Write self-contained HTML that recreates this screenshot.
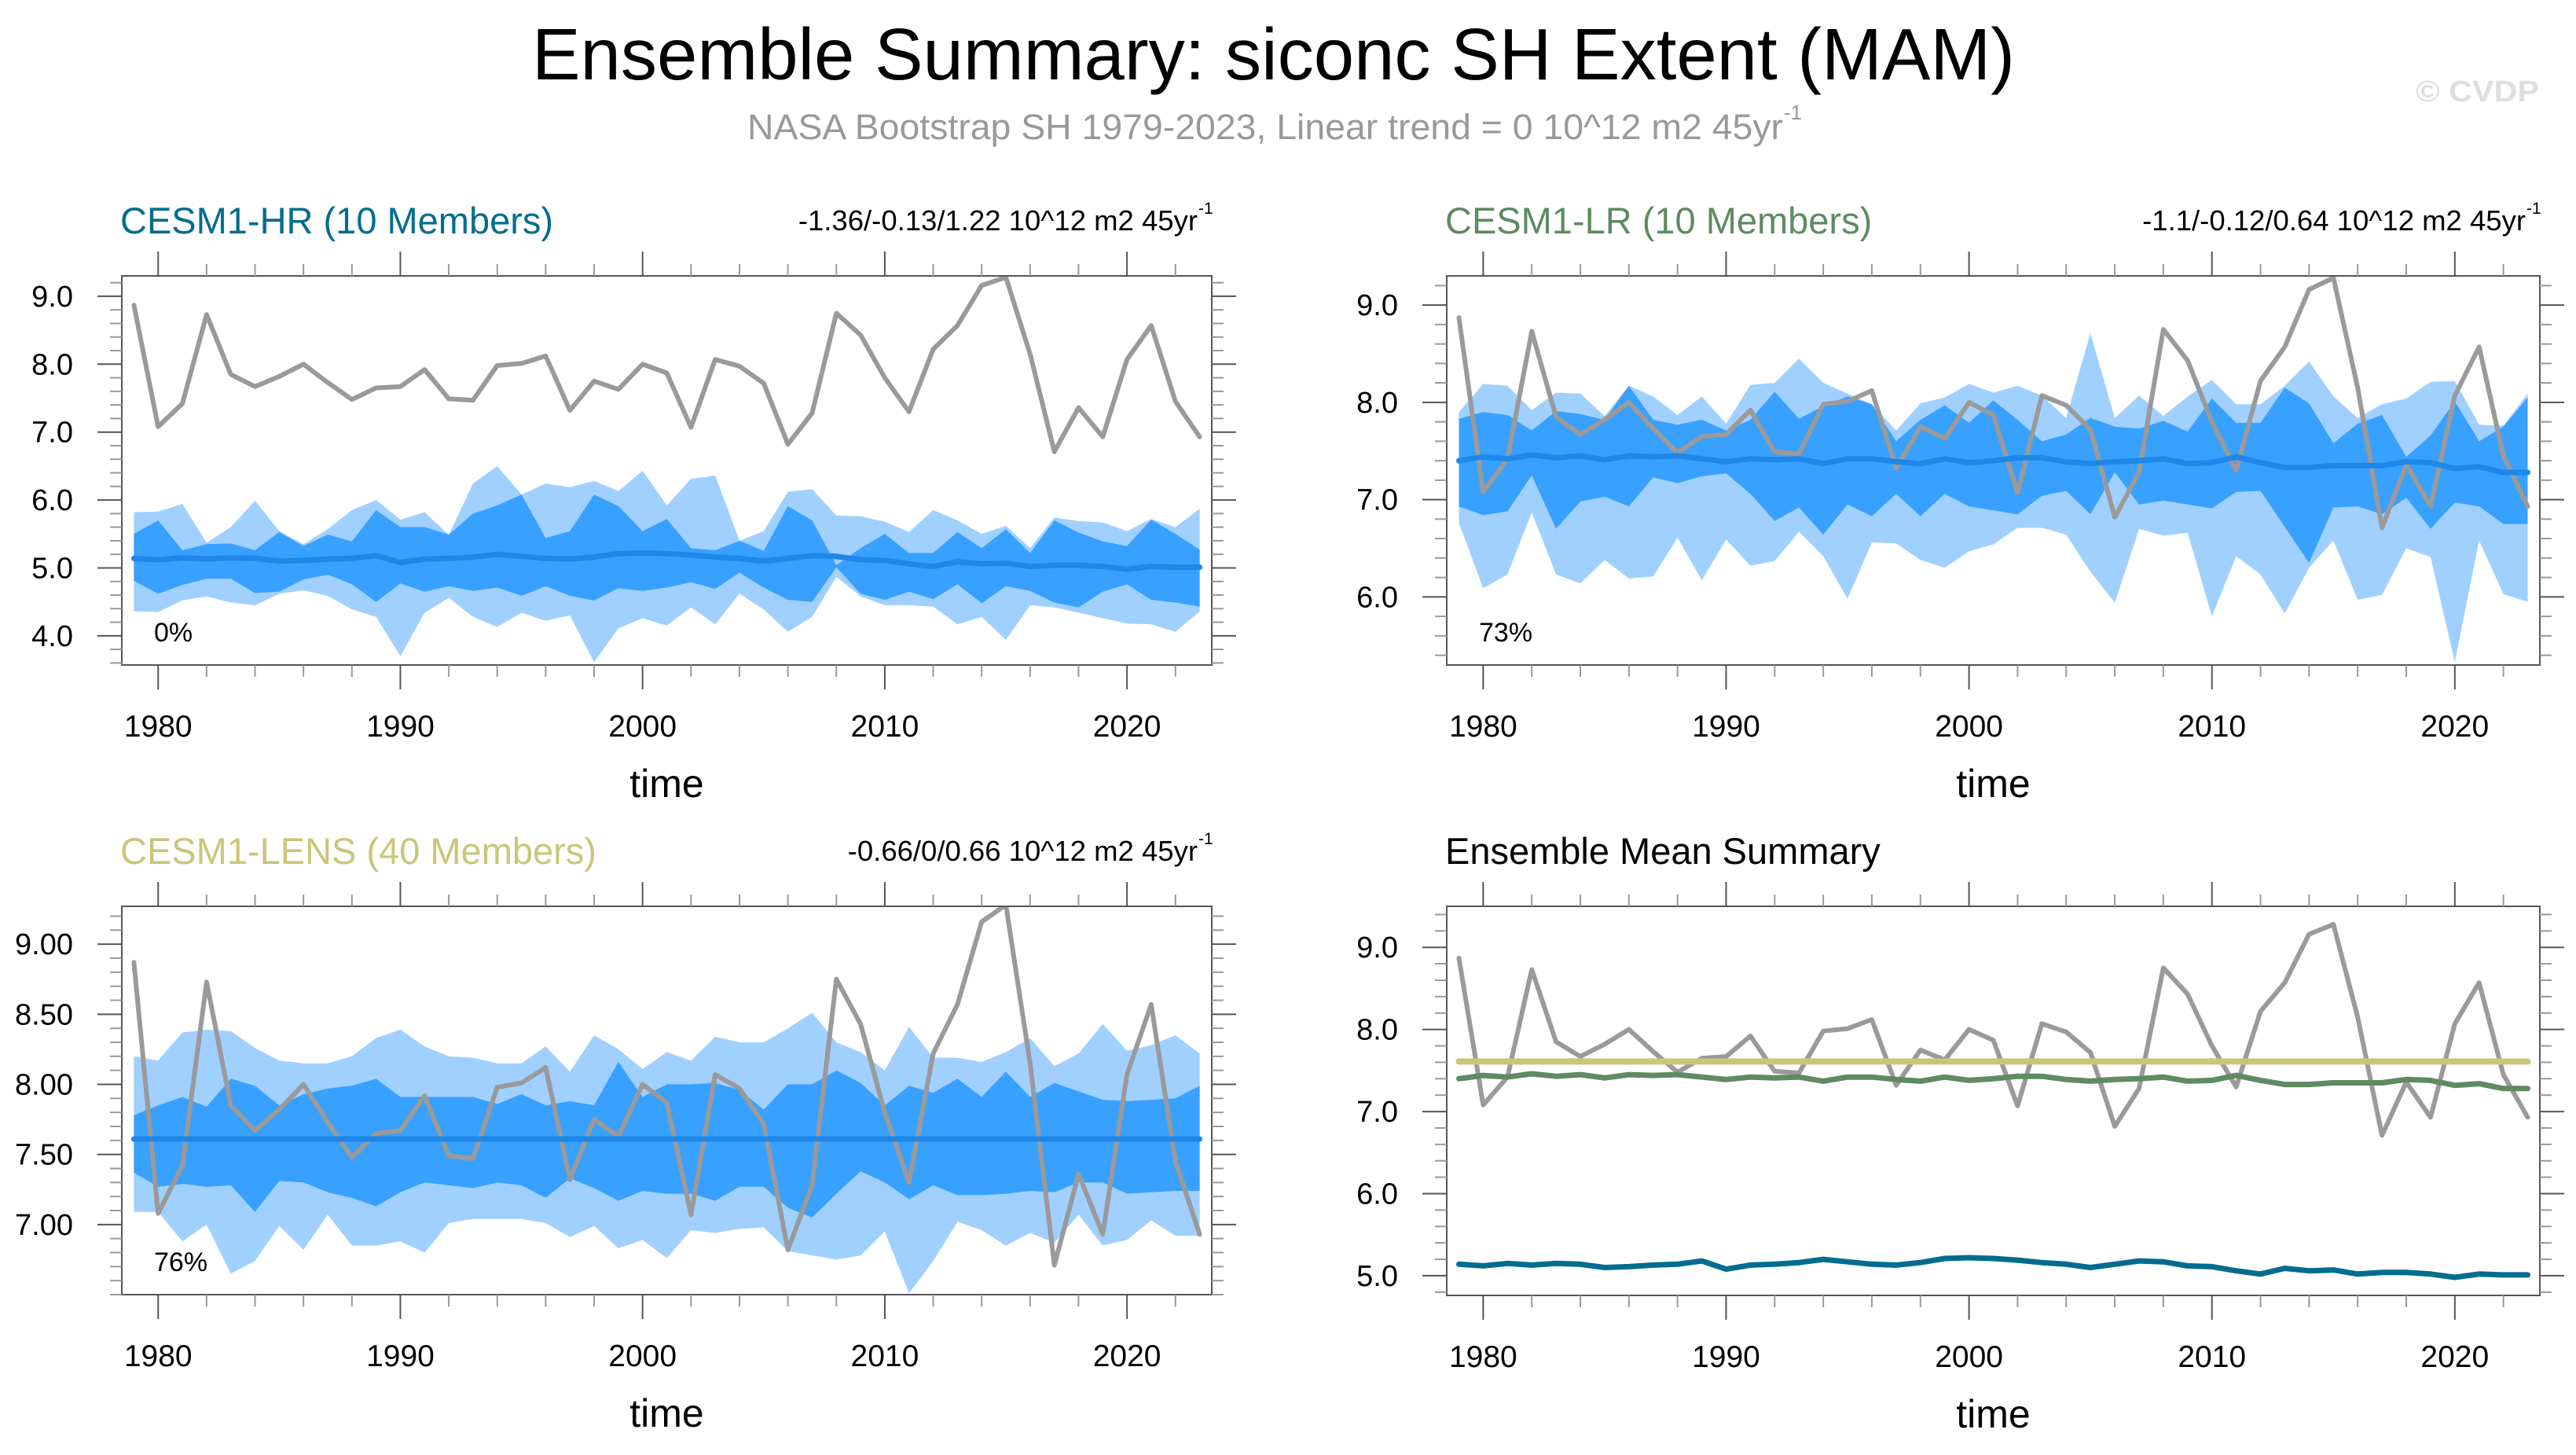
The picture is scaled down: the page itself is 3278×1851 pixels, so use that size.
<!DOCTYPE html>
<html><head><meta charset="utf-8"><style>
html,body{margin:0;padding:0;background:#fff;}
svg{display:block;font-family:"Liberation Sans",Arial,sans-serif;}
</style></head><body>
<svg id="fig" width="3278" height="1851" viewBox="0 0 3278 1851" xmlns="http://www.w3.org/2000/svg">
<text x="677" y="101" font-size="93" textLength="1887" lengthAdjust="spacingAndGlyphs" fill="#000">Ensemble Summary: siconc SH Extent (MAM)</text>
<text x="951" y="177" font-size="45" fill="#999" textLength="1318" lengthAdjust="spacingAndGlyphs">NASA Bootstrap SH 1979-2023, Linear trend = 0 10^12 m2 45yr</text>
<text x="2270" y="152" font-size="26" fill="#999">-1</text>
<text x="3074" y="129" font-size="38" font-weight="bold" fill="#dedede" textLength="157" lengthAdjust="spacingAndGlyphs">© CVDP</text>
</svg>
<script>
const years = [];
for (let y = 1979; y <= 2023; y++) years.push(y);

const obs = [8.87,7.08,7.42,8.73,7.85,7.67,7.82,8.00,7.73,7.48,7.65,7.67,7.92,7.49,7.47,7.98,8.01,8.12,7.32,7.75,7.63,8.00,7.87,7.07,8.07,7.97,7.72,6.82,7.28,8.75,8.43,7.80,7.30,8.22,8.57,9.16,9.28,8.15,6.71,7.36,6.93,8.07,8.57,7.45,6.93];

const hrMean = [5.14,5.12,5.15,5.13,5.15,5.14,5.10,5.11,5.13,5.14,5.18,5.08,5.13,5.14,5.16,5.20,5.17,5.14,5.13,5.16,5.21,5.22,5.21,5.19,5.16,5.14,5.10,5.14,5.18,5.17,5.12,5.11,5.06,5.02,5.09,5.06,5.07,5.02,5.04,5.04,5.02,4.98,5.02,5.01,5.01];
const hrMax = [5.82,5.83,5.94,5.37,5.60,5.99,5.54,5.35,5.57,5.85,6.00,5.71,5.82,5.49,6.24,6.50,6.08,6.24,6.19,6.28,6.13,6.43,5.92,6.31,6.36,5.40,5.54,6.12,6.16,5.77,5.76,5.68,5.53,5.85,5.70,5.50,5.62,5.29,5.74,5.69,5.67,5.54,5.72,5.60,5.87];
const hrHi = [5.50,5.70,5.26,5.35,5.36,5.26,5.53,5.32,5.49,5.39,5.85,5.60,5.60,5.49,5.80,5.92,6.08,5.44,5.54,6.08,5.91,5.54,5.72,5.29,5.26,5.40,5.25,5.91,5.70,5.04,5.29,5.50,5.22,5.22,5.53,5.29,5.57,5.22,5.70,5.52,5.39,5.32,5.71,5.50,5.27];
const hrLo = [4.81,4.62,4.75,4.84,4.84,4.63,4.65,4.83,4.90,4.76,4.50,4.77,4.65,4.73,4.66,4.71,4.59,4.73,4.59,4.52,4.70,4.66,4.71,4.79,4.69,4.93,4.71,4.53,4.50,5.01,4.62,4.53,4.65,4.54,4.76,4.48,4.73,4.66,4.49,4.42,4.65,4.76,4.53,4.49,4.43];
const hrMin = [4.36,4.35,4.52,4.58,4.49,4.45,4.62,4.67,4.59,4.39,4.28,3.70,4.34,4.56,4.28,4.13,4.34,4.22,4.30,3.61,4.11,4.26,4.15,4.42,4.17,4.62,4.39,4.06,4.28,4.87,4.58,4.45,4.45,4.43,4.17,4.28,3.94,4.45,4.42,4.34,4.26,4.18,4.17,4.06,4.36];

const lrMean = [7.40,7.44,7.42,7.46,7.43,7.45,7.41,7.45,7.44,7.45,7.42,7.39,7.42,7.41,7.42,7.37,7.42,7.42,7.39,7.37,7.42,7.38,7.40,7.43,7.43,7.39,7.37,7.39,7.40,7.42,7.37,7.38,7.44,7.38,7.33,7.33,7.35,7.35,7.35,7.39,7.38,7.32,7.34,7.28,7.28];
const lrMax = [7.90,8.19,8.17,7.92,8.10,8.09,7.86,8.17,8.06,7.87,8.06,7.78,8.18,8.20,8.45,8.20,8.09,7.98,7.71,7.99,8.05,8.19,8.10,8.17,8.07,7.84,8.71,7.84,8.07,7.86,8.06,8.23,7.98,7.98,8.17,8.42,8.06,7.84,7.98,8.04,8.21,8.22,7.77,7.76,8.09];
const lrHi = [7.83,7.90,7.87,7.71,7.91,7.88,7.82,8.17,7.82,7.77,7.82,7.71,7.82,8.11,7.83,7.96,8.06,7.98,7.60,7.82,7.97,7.79,8.02,7.82,7.60,7.67,7.84,7.75,7.73,7.81,7.70,8.04,7.79,7.79,8.15,7.99,7.58,7.78,7.87,7.44,7.66,8.01,7.60,7.75,8.05];
const lrLo = [6.93,6.84,6.88,7.25,6.70,6.98,7.03,6.93,7.23,7.17,7.24,7.27,7.06,6.78,6.92,6.64,6.95,6.83,7.06,6.83,7.06,6.93,6.89,6.85,7.04,7.09,6.85,7.28,6.95,6.99,6.95,6.91,7.08,7.09,6.72,6.35,6.92,6.93,6.85,7.02,6.70,6.97,6.93,6.75,6.75];
const lrMin = [6.76,6.09,6.23,6.87,6.23,6.14,6.38,6.19,6.21,6.61,6.17,6.59,6.32,6.37,6.67,6.42,5.98,6.56,6.55,6.38,6.30,6.47,6.54,6.71,6.71,6.64,6.26,5.94,6.70,6.63,6.66,5.80,6.42,6.23,5.83,6.30,6.58,5.97,6.02,6.50,6.41,5.33,6.58,6.03,5.95];

const lensMean = [7.61,7.61,7.61,7.61,7.61,7.61,7.61,7.61,7.61,7.61,7.61,7.61,7.61,7.61,7.61,7.61,7.61,7.61,7.61,7.61,7.61,7.61,7.61,7.61,7.61,7.61,7.61,7.61,7.61,7.61,7.61,7.61,7.61,7.61,7.61,7.61,7.61,7.61,7.61,7.61,7.61,7.61,7.61,7.61,7.61];
const lensMax = [8.20,8.17,8.37,8.39,8.38,8.26,8.17,8.15,8.15,8.20,8.33,8.39,8.27,8.20,8.19,8.15,8.15,8.27,8.09,8.35,8.25,8.11,8.23,8.17,8.34,8.30,8.30,8.40,8.51,8.30,8.23,8.10,8.41,8.19,8.19,8.16,8.23,8.33,8.13,8.22,8.43,8.24,8.28,8.35,8.22];
const lensHi = [7.78,7.85,7.91,7.84,8.04,7.99,7.85,7.93,7.97,7.99,8.04,7.91,7.91,7.91,7.91,7.86,7.93,7.85,7.88,7.85,8.16,7.91,8.00,8.00,8.01,7.96,7.82,8.00,8.00,8.10,8.01,7.85,7.99,7.94,8.04,7.91,8.09,7.91,8.01,7.95,7.89,7.88,7.89,7.90,7.99];
const lensLo = [7.37,7.27,7.29,7.27,7.28,7.09,7.31,7.30,7.23,7.19,7.13,7.23,7.30,7.28,7.26,7.30,7.28,7.19,7.33,7.26,7.17,7.24,7.22,7.22,7.17,7.27,7.27,7.12,7.05,7.22,7.38,7.30,7.18,7.28,7.21,7.21,7.22,7.24,7.23,7.30,7.30,7.22,7.23,7.24,7.24];
const lensMin = [7.09,7.09,6.88,7.00,6.65,6.74,6.99,6.82,7.07,6.85,6.85,6.88,6.80,7.01,7.04,7.04,7.04,7.01,6.91,6.99,6.83,6.89,6.76,6.96,6.94,6.97,6.98,6.81,6.78,6.75,6.78,6.95,6.51,6.74,7.02,6.96,6.85,6.94,6.87,7.07,6.85,6.89,7.03,6.92,6.92];

const xTicks = [1980,1990,2000,2010,2020];
const yTicksHR = [4.0,5.0,6.0,7.0,8.0,9.0];
const yTicksLR = [6.0,7.0,8.0,9.0];
const yTicksLENS = [7.0,7.5,8.0,8.5,9.0];
const yTicksMean = [5.0,6.0,7.0,8.0,9.0];
const pctLabels = ["0%","73%","76%"];

const NS = "http://www.w3.org/2000/svg";
const svg = document.getElementById('fig');
function mk(tag, attrs, parent) {
  const e = document.createElementNS(NS, tag);
  for (const k in attrs) e.setAttribute(k, attrs[k]);
  (parent || svg).appendChild(e);
  return e;
}

function panel(cfg) {
  const g = mk('g', {});
  
  
  const L = cfg.x0, R = cfg.x1, T = cfg.y0, B = cfg.y1;
  const xs = v => L + (v - 1978.5) / 45 * (R - L);
  const ys = v => B - (v - cfg.ymin) / (cfg.ymax - cfg.ymin) * (B - T);
  const clip = mk('clipPath', {id: 'c' + cfg.id}, g);
  mk('rect', {x: L, y: T, width: R - L, height: B - T}, clip);
  const pg = mk('g', {'clip-path': 'url(#c' + cfg.id + ')'}, g);
  function band(lo, hi, color, nm) {
    let d = '';
    years.forEach((y, i) => { d += (i ? 'L' : 'M') + xs(y).toFixed(1) + ',' + ys(hi[i]).toFixed(1); });
    for (let i = years.length - 1; i >= 0; i--) d += 'L' + xs(years[i]).toFixed(1) + ',' + ys(lo[i]).toFixed(1);
    const p = mk('path', {d: d + 'Z', fill: color}, pg);
    
    
  }
  function line(vals, color, w, nm) {
    const pts = years.map((y, i) => xs(y).toFixed(1) + ',' + ys(vals[i]).toFixed(1)).join(' ');
    const p = mk('polyline', {points: pts, fill: 'none', stroke: color, 'stroke-width': w, 'stroke-linejoin': 'round', 'stroke-linecap': 'round'}, pg);
    
    
  }
  if (cfg.bands) {
    band(cfg.bands[0], cfg.bands[3], '#a0d0ff', 'range-band-outer');
    band(cfg.bands[1], cfg.bands[2], '#38a0ff', 'range-band-inner');
    line(obs, '#9a9a9a', 6, 'observed-line');
    line(cfg.mean, '#1d87ea', 7, 'ensemble-mean-line');
  } else {
    line(obs, '#9a9a9a', 6, 'observed-line');
    line(lensMean, '#cbc57a', 8, 'lens-mean-line');
    line(lrMean, '#5f8a62', 7, 'lr-mean-line');
    line(hrMean, '#006d8f', 7, 'hr-mean-line');
  }
  const fr = mk('rect', {x: L, y: T, width: R - L, height: B - T, fill: 'none', stroke: '#555', 'stroke-width': 2}, g);
  
  
  for (let y = 1980; y <= 2023; y += 2) {
    const maj = (y % 10 === 0), len = maj ? 31 : 15, c = maj ? '#555' : '#999';
    mk('line', {x1: xs(y), x2: xs(y), y1: T, y2: T - len, stroke: c, 'stroke-width': 2}, g);
    mk('line', {x1: xs(y), x2: xs(y), y1: B, y2: B + len, stroke: c, 'stroke-width': 2}, g);
  }
  xTicks.forEach(y => {
    const t = mk('text', {x: xs(y), y: B + 91, 'font-size': 39, 'text-anchor': 'middle', fill: '#000'}, g);
    t.textContent = y;
    
    
  });
  const st = cfg.minor;
  for (let v = Math.ceil(cfg.ymin / st - 1e-6) * st; v <= cfg.ymax + 1e-6; v += st) {
    const maj = cfg.yticks.some(m => Math.abs(m - v) < 1e-6), len = maj ? 31 : 15, c = maj ? '#555' : '#999';
    mk('line', {x1: L, x2: L - len, y1: ys(v), y2: ys(v), stroke: c, 'stroke-width': 2}, g);
    mk('line', {x1: R, x2: R + len, y1: ys(v), y2: ys(v), stroke: c, 'stroke-width': 2}, g);
  }
  cfg.yticks.forEach(v => {
    const t = mk('text', {x: L - 62, y: ys(v) + 13, 'font-size': 38, 'text-anchor': 'end', fill: '#000'}, g);
    t.textContent = v.toFixed(cfg.dec);
    
    
  });
  const tt = mk('text', {x: (L + R) / 2, y: B + 168, 'font-size': 50, 'text-anchor': 'middle', fill: '#000'}, g);
  tt.textContent = 'time';
  
  
  const ti = mk('text', {x: L - 2, y: T - 54, 'font-size': 47, fill: cfg.color}, g);
  ti.textContent = cfg.title;
  
  
  if (cfg.trend) {
    const tr = mk('text', {x: R - 18, y: T - 58, 'font-size': 36.5, 'text-anchor': 'end', fill: '#000'}, g);
    tr.textContent = cfg.trend;
    
    
    const sp = mk('text', {x: R - 17, y: T - 79, 'font-size': 21, fill: '#000'}, g);
    sp.textContent = '-1';
    
    
  }
  if (cfg.pct) {
    const pc = mk('text', {x: L + 41, y: B - 30, 'font-size': 34, fill: '#000'}, g);
    pc.textContent = cfg.pct;
    
    
  }
}

panel({id: 1, name: 'panel-cesm1-hr', x0: 155, x1: 1542, y0: 351, y1: 846, ymin: 3.57, ymax: 9.3, minor: 0.2, dec: 1, yticks: yTicksHR,
  bands: [hrMin, hrLo, hrHi, hrMax], mean: hrMean, title: 'CESM1-HR (10 Members)', color: '#006d8f',
  trend: '-1.36/-0.13/1.22 10^12 m2 45yr', pct: pctLabels[0]});
panel({id: 2, name: 'panel-cesm1-lr', x0: 1841, x1: 3232, y0: 351, y1: 846, ymin: 5.30, ymax: 9.3, minor: 0.2, dec: 1, yticks: yTicksLR,
  bands: [lrMin, lrLo, lrHi, lrMax], mean: lrMean, title: 'CESM1-LR (10 Members)', color: '#5f8a62',
  trend: '-1.1/-0.12/0.64 10^12 m2 45yr', pct: pctLabels[1]});
panel({id: 3, name: 'panel-cesm1-lens', x0: 155, x1: 1542, y0: 1153, y1: 1647, ymin: 6.50, ymax: 9.27, minor: 0.1, dec: 2, yticks: yTicksLENS,
  bands: [lensMin, lensLo, lensHi, lensMax], mean: lensMean, title: 'CESM1-LENS (40 Members)', color: '#cbc57a',
  trend: '-0.66/0/0.66 10^12 m2 45yr', pct: pctLabels[2]});
panel({id: 4, name: 'panel-ensemble-mean-summary', x0: 1841, x1: 3232, y0: 1153, y1: 1648, ymin: 4.76, ymax: 9.5, minor: 0.2, dec: 1, yticks: yTicksMean,
  bands: null, title: 'Ensemble Mean Summary', color: '#000', trend: null, pct: null});
</script>
</body></html>
